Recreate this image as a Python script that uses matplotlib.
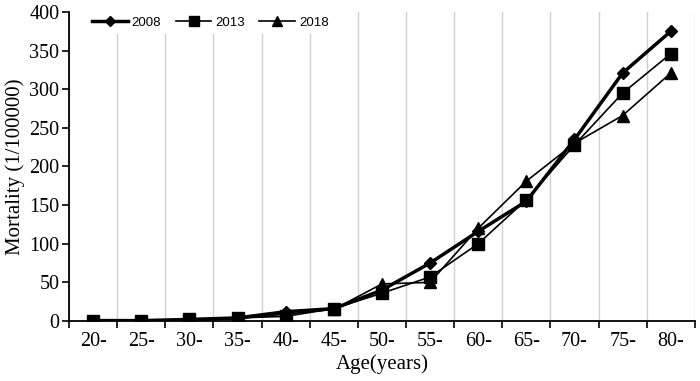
import matplotlib.pyplot as plt
import numpy as np

ages = ['20-', '25-', '30-', '35-', '40-', '45-', '50-', '55-', '60-', '65-', '70-', '75-', '80-']
m2008 = [0.5, 0.5, 2, 4, 12, 16, 40, 75, 116, 155, 235, 321, 375]
m2013 = [0.5, 0.5, 2, 4, 6, 16, 36, 57, 100, 157, 228, 295, 346]
m2018 = [0.3, 0.3, 1, 3, 9, 15, 48, 50, 120, 181, 230, 266, 321]

plt.rcParams['font.family'] = ['Liberation Serif', 'DejaVu Serif']
fig = plt.figure(figsize=(7, 3.81), dpi=100)
ax = fig.add_axes([0.0986, 0.1575, 0.894, 0.811])

x = np.arange(len(ages))
ax.plot(x, m2008, marker='D', markersize=6, color='k', linewidth=2.5, label='2008')
ax.plot(x, m2013, marker='s', markersize=8, color='k', linewidth=1.2, label='2013')
ax.plot(x, m2018, marker='^', markersize=8, color='k', linewidth=1.2, label='2018')

ax.set_xlim(-0.5, len(ages) - 0.5)
ax.set_ylim(0, 400)
ax.set_yticks(range(0, 401, 50))
ax.set_xticks(x)
ax.set_xticklabels(ages)
ax.set_xticks(np.arange(-0.5, len(ages), 1), minor=True)
ax.tick_params(axis='x', which='major', length=0, labelsize=14.5, pad=8)
ax.tick_params(axis='x', which='minor', length=5, width=1.2, direction='out')
ax.tick_params(axis='y', length=5, width=1.2, labelsize=14.5, pad=2)
ax.grid(axis='x', which='minor', color='#d0d0d0', linewidth=1)
ax.set_axisbelow(True)
for s in ['top', 'right']:
    ax.spines[s].set_visible(False)
for s in ['left', 'bottom']:
    ax.spines[s].set_linewidth(1.3)

ax.set_xlabel('Age(years)', fontsize=15, labelpad=2)
ax.set_ylabel('Mortality (1/100000)', fontsize=15, labelpad=3)

leg = ax.legend(loc='center left', bbox_to_anchor=(0.018, 0.966), ncol=3, frameon=True,
                prop={'family': 'Liberation Sans', 'size': 9.5}, handlelength=2.7,
                columnspacing=1.1, handletextpad=0.3, markerscale=0.9,
                borderpad=0.4, fancybox=False, framealpha=1)
leg.get_frame().set_facecolor('white')
leg.get_frame().set_edgecolor('none')

fig.savefig('out.png')
